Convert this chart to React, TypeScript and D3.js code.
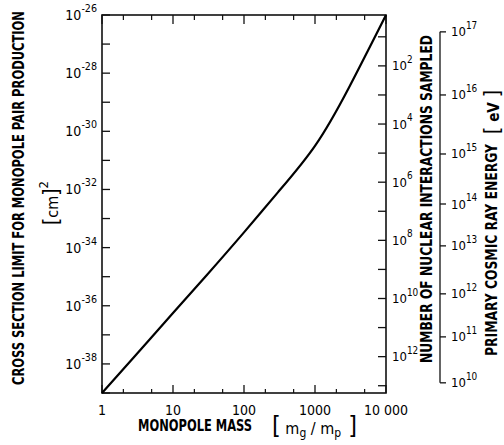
import React from 'react'
import * as d3 from 'd3'

// curve: monopole mass vs log10 of cross section limit
const massValues = [1, 3, 10, 30, 100, 300, 1000, 3000, 10000]
const sigmaExponents = [-39.0, -37.69, -36.25, -34.94, -33.475, -32.1, -30.5, -28.5, -26.0]

const massMajorTicks = [1, 10, 100, 1000, 10000]
const massTickLabels = ['1', '10', '100', '1000', '10 000']
const massMinorTicks = [2, 5, 20, 50, 200, 500, 2000, 5000]

const sigmaTickExps = d3.range(-39, -25)
const sigmaLabelExps = [-26, -28, -30, -32, -34, -36, -38]

// number of interactions sampled, N = 10^nuclearOffset / sigma
const nuclearOffset = -25.75
const nuclearTickExps = d3.range(1, 14)
const nuclearLabelExps = [2, 4, 6, 8, 10, 12]

// primary cosmic ray energy, placed against the cross section exponent
const energyExps = [10, 11, 12, 13, 14, 15, 16, 17]
const energySigmaExps = [-38.65, -37.07, -35.59, -33.94, -32.5, -30.78, -28.75, -26.58]

const font = "'DejaVu Sans Condensed', 'Liberation Sans Narrow', 'DejaVu Sans', sans-serif"

const Pow = ({ x, y, base = '10', exp, anchor = 'start', size = 14 }: any) => (
  <text x={x} y={y} textAnchor={anchor} fontFamily={font} fontSize={size} dominantBaseline="middle">
    {base}
    <tspan fontSize={size * 0.76} dy={-7}>{exp}</tspan>
  </text>
)

const App = () => {
  const width = 504
  const height = 445
  const left = 102, right = 386, top = 15, bottom = 393

  const x = d3.scaleLog().domain([1, 10000]).range([left, right])
  const y = d3.scaleLog().domain([1e-39, 1e-26]).range([bottom, top])
  const yExp = (e: number) => y(Math.pow(10, e))
  const nucY = (e: number) => yExp(nuclearOffset - e)
  const energyY = d3.scaleLinear().domain(energyExps).range(energySigmaExps)

  const pts = massValues.map((m, i) => [m, sigmaExponents[i]] as [number, number])
  const line = d3.line<[number, number]>()
    .x(d => x(d[0]))
    .y(d => yExp(d[1]))
    .curve(d3.curveNatural)

  const eTop = yExp(energyY(17))
  const eBot = yExp(energyY(10))
  const eX = 440

  return (
    <svg width={width} height={height} style={{ position: 'absolute', left: 0, top: 0, background: '#fff' }}>
      <rect x={0} y={0} width={width} height={height} fill="#fff" />
      {/* frame */}
      <rect x={left} y={top} width={right - left} height={bottom - top} fill="none" stroke="#111" strokeWidth={1.6} />

      {/* bottom and top ticks */}
      {massMajorTicks.map(m => (
        <g key={'M' + m}>
          <line x1={x(m)} x2={x(m)} y1={bottom} y2={bottom - 8} stroke="#111" strokeWidth={1.3} />
          <line x1={x(m)} x2={x(m)} y1={top} y2={top + 9} stroke="#111" strokeWidth={1.3} />
        </g>
      ))}
      {massMinorTicks.map(m => (
        <g key={'m' + m}>
          <line x1={x(m)} x2={x(m)} y1={bottom} y2={bottom - 4} stroke="#111" strokeWidth={1.2} />
          <line x1={x(m)} x2={x(m)} y1={top} y2={top + 5} stroke="#111" strokeWidth={1.2} />
        </g>
      ))}
      {massMajorTicks.map((m, i) => (
        <text key={'ml' + m} x={x(m)} y={411} textAnchor="middle" fontFamily={font} fontSize={14} dominantBaseline="middle">
          {massTickLabels[i]}
        </text>
      ))}

      {/* left ticks */}
      {sigmaTickExps.map(e => (
        <line key={'s' + e} x1={left} x2={left + 8} y1={yExp(e)} y2={yExp(e)} stroke="#111" strokeWidth={1.3} />
      ))}
      {sigmaLabelExps.map(e => (
        <Pow key={'sl' + e} x={97} y={yExp(e) + 1} exp={'-' + Math.abs(e)} anchor="end" />
      ))}

      {/* right ticks: nuclear interactions */}
      {nuclearTickExps.map(e => (
        <line key={'n' + e} x1={right} x2={right - 8} y1={nucY(e)} y2={nucY(e)} stroke="#111" strokeWidth={1.3} />
      ))}
      {nuclearLabelExps.map(e => (
        <Pow key={'nl' + e} x={392} y={nucY(e) + 1} exp={String(e)} size={13} />
      ))}

      {/* energy axis */}
      <line x1={eX} x2={eX} y1={eTop} y2={eBot} stroke="#111" strokeWidth={1.3} />
      {energyExps.map(e => (
        <g key={'e' + e}>
          <line x1={eX} x2={eX + 6} y1={yExp(energyY(e))} y2={yExp(energyY(e))} stroke="#111" strokeWidth={1.3} />
          <Pow x={451} y={yExp(energyY(e)) + 1} exp={String(e)} size={13} />
        </g>
      ))}

      {/* curve */}
      <path d={line(pts) || ''} fill="none" stroke="#000" strokeWidth={2.2} />

      {/* titles */}
      <text transform="translate(24,198) rotate(-90)" textAnchor="middle" fontFamily={font} fontSize={15} fontWeight="bold"
        textLength={374} lengthAdjust="spacingAndGlyphs">
        CROSS SECTION LIMIT FOR MONOPOLE PAIR PRODUCTION
      </text>
      <text transform="translate(58,203) rotate(-90)" textAnchor="middle" fontFamily={font} fontSize={16}>
        <tspan fontSize={21}>[</tspan>cm<tspan fontSize={21}>]</tspan>
        <tspan fontSize={13} dy={-10}>2</tspan>
      </text>

      <text x={195} y={431} textAnchor="middle" fontFamily={font} fontSize={15} fontWeight="bold"
        textLength={114} lengthAdjust="spacingAndGlyphs">
        MONOPOLE MASS
      </text>
      <text x={272} y={434} textAnchor="start" fontFamily={font} fontSize={16}>
        <tspan fontSize={25}>[</tspan> m<tspan fontSize={12} dy={3}>g</tspan><tspan dy={-3}> / m</tspan>
        <tspan fontSize={12} dy={3}>p</tspan><tspan fontSize={25} dy={-3}> ]</tspan>
      </text>

      <text transform="translate(432,199) rotate(-90)" textAnchor="middle" fontFamily={font} fontSize={15} fontWeight="bold"
        textLength={328} lengthAdjust="spacingAndGlyphs">
        NUMBER OF NUCLEAR INTERACTIONS SAMPLED
      </text>
      <text transform="translate(497,250) rotate(-90)" textAnchor="middle" fontFamily={font} fontSize={15} fontWeight="bold"
        textLength={212} lengthAdjust="spacingAndGlyphs">
        PRIMARY COSMIC RAY ENERGY
      </text>
      <text transform="translate(499,112) rotate(-90)" textAnchor="middle" fontFamily={font} fontSize={15} fontWeight="bold">
        <tspan fontSize={22} fontWeight="normal">[</tspan> eV <tspan fontSize={22} fontWeight="normal">]</tspan>
      </text>
    </svg>
  )
}

export default App
